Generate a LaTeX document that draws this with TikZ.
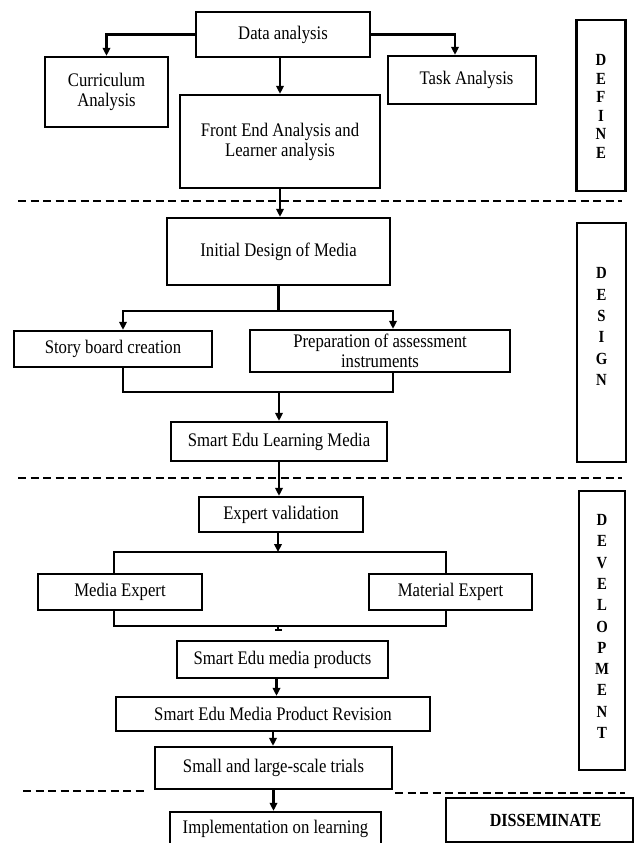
\documentclass[tikz,border=0pt]{standalone}
\usepackage{fontspec}
\setmainfont[FakeStretch=0.87]{Liberation Serif}
\usetikzlibrary{arrows.meta,calc}
\begin{document}
\begin{tikzpicture}[x=1pt,y=-1pt,
  box/.style={draw, line width=2.3pt, inner sep=0pt, align=center, font=\fontsize{19.2}{20}\selectfont},
  side/.style={draw, line width=2.6pt, inner sep=0pt, minimum width=49pt},
  sidetext/.style={inner sep=0pt, align=center, font=\bfseries\fontsize{17}{21.3}\selectfont},
  conn/.style={line width=2.1pt},
  arr/.style={conn, -{Triangle[length=8pt,width=7.5pt]}},
  sepline/.style={line width=2pt, dash pattern=on 8pt off 4.5pt}]
\useasboundingbox (0,0) rectangle (634,843);
\clip (0,0) rectangle (634,843);
\fill[white] (0,0) rectangle (634,843);

% separators
\draw[sepline] (18,201) -- (622,201);
\draw[sepline] (18,478) -- (622,478);
\draw[sepline] (23,791) -- (147,791);
\draw[sepline] (395,793) -- (625,793);

% DEFINE
\node[box, minimum width=174pt, minimum height=45pt] (data) at (283,34.5) {Data analysis};
\node[box, minimum width=123pt, minimum height=70pt] (curr) at (106.5,92) {Curriculum\\Analysis};
\node[box, minimum width=148pt, minimum height=48pt] (task) at (462,80) {\hspace{9pt}Task Analysis};
\node[box, minimum width=200pt, minimum height=93pt] (front) at (280,141.5) {Front End Analysis and\\Learner analysis};
\node[side, minimum height=171pt] (define) at (601,105.5) {};
\node[sidetext, font=\bfseries\fontsize{17}{18.6}\selectfont] (defineT) at (601,106.5) {D\\E\\F\\I\\N\\E};

% DESIGN
\node[box, minimum width=223pt, minimum height=67pt] (init) at (278.5,251.5) {Initial Design of Media};
\node[side, minimum height=239pt] (design) at (601.5,342.5) {};
\node[sidetext] (designT) at (601.5,326.5) {D\\E\\S\\I\\G\\N};
\node[box, minimum width=198pt, minimum height=36pt] (story) at (113,349) {Story board creation};
\node[box, minimum width=260pt, minimum height=42pt] (prep) at (380,351) {Preparation of assessment\\instruments};
\node[box, minimum width=216pt, minimum height=39pt] (learn) at (279,441.5) {Smart Edu Learning Media};

% DEVELOPMENT
\node[box, minimum width=164pt, minimum height=35pt] (expert) at (281,514.5) {Expert validation};
\node[side, minimum width=46pt, minimum height=279pt] (devel) at (602,630.5) {};
\node[sidetext] (develT) at (602,626.5) {D\\E\\V\\E\\L\\O\\P\\M\\E\\N\\T};
\node[box, minimum width=164pt, minimum height=36pt] (media) at (120,592) {Media Expert};
\node[box, minimum width=163pt, minimum height=36pt] (material) at (450.5,592) {Material Expert};
\node[box, minimum width=211pt, minimum height=37pt] (products) at (282.5,659.5) {Smart Edu media products};
\node[box, minimum width=314pt, minimum height=34pt] (revision) at (273,714) {Smart Edu Media Product Revision};
\node[box, minimum width=237pt, minimum height=42pt] (trials) at (273.5,768) {Small and large-scale trials};

% DISSEMINATE
\node[box, minimum width=211pt, minimum height=34pt] (impl) at (275.5,829) {Implementation on learning};
\node[box, minimum width=187pt, minimum height=44pt, font=\bfseries\fontsize{18.5}{20}\selectfont] (dissem) at (539.5,820) {\hspace{12pt}DISSEMINATE};

% connectors
\draw[arr] (data.west) -| (curr.north);
\draw[arr] (data.east) -| ([xshift=-7pt]task.north);
\draw[arr] (front.north |- data.south) -- (front.north);
\draw[arr] (front.south) -- (front.south |- init.north);

\coordinate (s1) at (278.5,311);
\draw[conn] (init.south) -- (s1);
\draw[arr] (s1) -| ([xshift=10pt]story.north);
\draw[arr] (s1) -| ([xshift=13pt]prep.north);
\coordinate (j1) at (279,392);
\draw[conn] ([xshift=10pt]story.south) |- (j1) -| ([xshift=13pt]prep.south);
\draw[arr] (j1) -- (learn.north);
\draw[arr] (learn.south) -- (learn.south |- expert.north);

\coordinate (s2) at (278,552);
\draw[arr] ([xshift=-3pt]expert.south) -- (s2);
\draw[conn] ([xshift=-6pt]media.north) |- (s2) -| ([xshift=-4.5pt]material.north);
\coordinate (j2) at (278,626);
\draw[conn] ([xshift=-6pt]media.south) |- (j2) -| ([xshift=-4.5pt]material.south);
\draw[conn, -{Bar[width=7pt,line width=1.8pt]}] (j2) -- ([yshift=9pt]products.north -| j2);
\draw[arr] ([xshift=-6pt]products.south) -- ([xshift=-6pt]products.south |- revision.north);
\draw[arr] (revision.south) -- (revision.south |- trials.north);
\draw[arr] (trials.south) -- (trials.south |- impl.north);
\end{tikzpicture}
\end{document}
